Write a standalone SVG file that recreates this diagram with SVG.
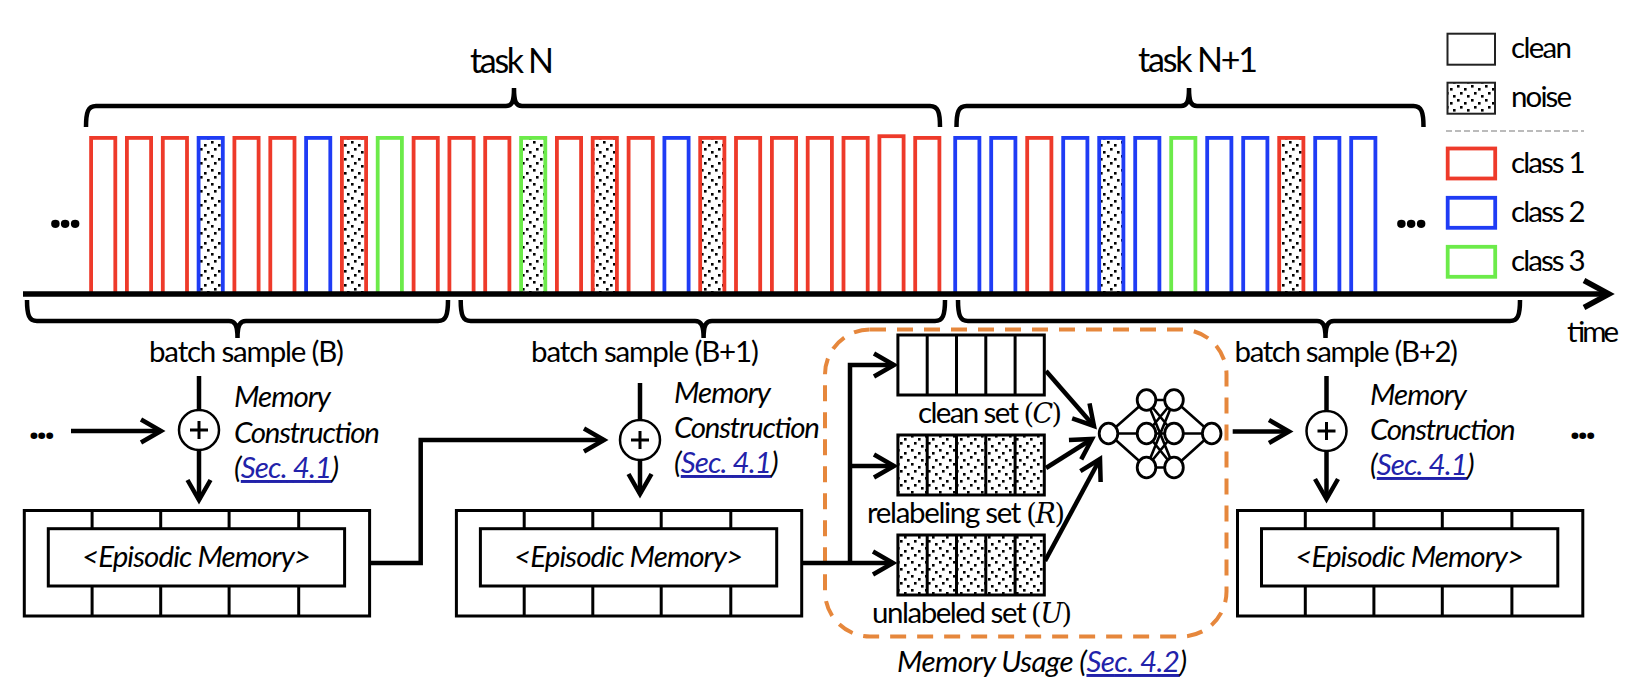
<svg xmlns="http://www.w3.org/2000/svg" width="1650" height="688" viewBox="0 0 1650 688">
<style>
.r{fill:#fff;stroke:#EE3A2A;stroke-width:3.8}
.b{fill:#fff;stroke:#1F3CF5;stroke-width:3.8}
.g{fill:#fff;stroke:#6CEB4A;stroke-width:3.8}
.n{fill:url(#dots)}
.t{font-family:Lato,"Liberation Sans",sans-serif;font-size:29.5px;fill:#000}
.big{font-size:34px}
.i{font-style:italic}
.link{fill:#2222AA;text-decoration:underline}
.m{font-family:"DejaVu Serif","Liberation Serif",serif;font-size:27px}
.dots{font-family:"Open Sans",sans-serif;font-weight:bold;fill:#000;text-anchor:middle}
.ln{stroke:#000;stroke-width:4.5;fill:none}
.arr{marker-end:url(#ah)}
.brace{stroke:#000;stroke-width:4.5;fill:none;stroke-linecap:butt}
.box{fill:#fff;stroke:#000;stroke-width:3}
.nbox{fill:url(#dots);stroke:#000;stroke-width:3}
.thin{stroke:#000;stroke-width:3}
.nn{fill:#fff;stroke:#000;stroke-width:2.8}
.nne{stroke:#000;stroke-width:2.6}
</style>
<defs>
<pattern id="dots" patternUnits="userSpaceOnUse" width="14" height="14">
<rect width="14" height="14" fill="#fff"/>
<rect x="1" y="1" width="2.6" height="2.6" fill="#000"/>
<rect x="8" y="4" width="2.6" height="2.6" fill="#000"/>
<rect x="4" y="8" width="2.6" height="2.6" fill="#000"/>
<rect x="11" y="11" width="2.6" height="2.6" fill="#000"/>
</pattern>
<marker id="ah" markerUnits="userSpaceOnUse" markerWidth="40" markerHeight="40" viewBox="-30 -20 40 40" refX="0" refY="0" orient="auto" overflow="visible">
<path d="M-20,-11.5 L0,0 L-20,11.5" fill="none" stroke="#000" stroke-width="4.5"/>
</marker>
</defs>
<rect width="1650" height="688" fill="#fff"/>

<g id="timeline">
<g id="bars-task-N">
<rect class="r" x="91.1" y="137.9" width="24.2" height="156.1"/>
<rect class="r" x="126.9" y="137.9" width="24.2" height="156.1"/>
<rect class="r" x="162.8" y="137.9" width="24.2" height="156.1"/>
<rect class="b n" x="198.6" y="137.9" width="24.2" height="156.1"/>
<rect class="r" x="234.4" y="137.9" width="24.2" height="156.1"/>
<rect class="r" x="270.3" y="137.9" width="24.2" height="156.1"/>
<rect class="b" x="306.1" y="137.9" width="24.2" height="156.1"/>
<rect class="r n" x="341.9" y="137.9" width="24.2" height="156.1"/>
<rect class="g" x="377.7" y="137.9" width="24.2" height="156.1"/>
<rect class="r" x="413.6" y="137.9" width="24.2" height="156.1"/>
<rect class="r" x="449.4" y="137.9" width="24.2" height="156.1"/>
<rect class="r" x="485.2" y="137.9" width="24.2" height="156.1"/>
<rect class="g n" x="521.1" y="137.9" width="24.2" height="156.1"/>
<rect class="r" x="556.9" y="137.9" width="24.2" height="156.1"/>
<rect class="r n" x="592.7" y="137.9" width="24.2" height="156.1"/>
<rect class="r" x="628.6" y="137.9" width="24.2" height="156.1"/>
<rect class="b" x="664.4" y="137.9" width="24.2" height="156.1"/>
<rect class="r n" x="700.2" y="137.9" width="24.2" height="156.1"/>
<rect class="r" x="736.0" y="137.9" width="24.2" height="156.1"/>
<rect class="r" x="771.9" y="137.9" width="24.2" height="156.1"/>
<rect class="r" x="807.7" y="137.9" width="24.2" height="156.1"/>
<rect class="r" x="843.5" y="137.9" width="24.2" height="156.1"/>
<rect class="r" x="879.4" y="136.2" width="24.2" height="157.8"/>
<rect class="r" x="915.2" y="137.9" width="24.2" height="156.1"/>
</g>
<g id="bars-task-N1">
<rect class="b" x="955.2" y="137.9" width="24.2" height="156.1"/>
<rect class="b" x="991.2" y="137.9" width="24.2" height="156.1"/>
<rect class="r" x="1027.2" y="137.9" width="24.2" height="156.1"/>
<rect class="b" x="1063.2" y="137.9" width="24.2" height="156.1"/>
<rect class="b n" x="1099.2" y="137.9" width="24.2" height="156.1"/>
<rect class="b" x="1135.2" y="137.9" width="24.2" height="156.1"/>
<rect class="g" x="1171.2" y="137.9" width="24.2" height="156.1"/>
<rect class="b" x="1207.2" y="137.9" width="24.2" height="156.1"/>
<rect class="b" x="1243.2" y="137.9" width="24.2" height="156.1"/>
<rect class="r n" x="1279.2" y="137.9" width="24.2" height="156.1"/>
<rect class="b" x="1315.2" y="137.9" width="24.2" height="156.1"/>
<rect class="b" x="1351.2" y="137.9" width="24.2" height="156.1"/>
</g>
<line x1="23" y1="294" x2="1604" y2="294" stroke="#000" stroke-width="5.5"/>
<path d="M1584,280.5 L1609,294 L1584,307.5" fill="none" stroke="#000" stroke-width="5.5"/>
<text class="dots" x="63" y="227.5" font-size="50" letter-spacing="-4.5">...</text>
<text class="dots" x="1409" y="227.5" font-size="50" letter-spacing="-4.5">...</text>
<text class="t" x="1564" y="342" textLength="52">time</text>
</g>

<g id="task-braces">
<path class="brace" d="M86,127 C86,112 88,106 96,106 L506,106 C512,106 514,102 514,88 C514,102 516,106 522,106 L930,106 C938,106 940,112 940,127"/>
<text class="t big" x="512" y="73" text-anchor="middle" textLength="84">task N</text>
<path class="brace" d="M956.5,127 C956.5,112 958.5,106 966.5,106 L1181,106 C1187,106 1189,102 1189,88 C1189,102 1191,106 1197,106 L1413.5,106 C1421.5,106 1423.5,112 1423.5,127"/>
<text class="t big" x="1198" y="72" text-anchor="middle" textLength="120">task N+1</text>
</g>

<g id="legend">
<rect x="1447.5" y="33.7" width="47.5" height="31" fill="#fff" stroke="#222" stroke-width="2"/>
<text class="t" x="1511" y="58" textLength="61">clean</text>
<rect x="1447.5" y="82.7" width="47.5" height="31" fill="url(#dots)" stroke="#222" stroke-width="2"/>
<text class="t" x="1511" y="107" textLength="61">noise</text>
<line x1="1446" y1="131" x2="1584" y2="131" stroke="#bbb" stroke-width="2" stroke-dasharray="6 3"/>
<rect class="r" x="1447.7" y="148.5" width="47.5" height="30"/>
<text class="t" x="1511" y="173" textLength="74.5">class 1</text>
<rect class="b" x="1447.7" y="197.8" width="47.5" height="30"/>
<text class="t" x="1511" y="222" textLength="74.5">class 2</text>
<rect class="g" x="1447.7" y="246.8" width="47.5" height="30"/>
<text class="t" x="1511" y="270.5" textLength="74.5">class 3</text>
</g>

<g id="batch-braces">
<path class="brace" d="M27,300 C27,315 29,321 37,321 L229,321 C235,321 237.5,325 237.5,338 C237.5,325 240,321 246,321 L438,321 C446,321 448,315 448,300"/>
<path class="brace" d="M460.7,300 C460.7,315 462.7,321 470.7,321 L695,321 C701,321 703.6,325 703.6,338 C703.6,325 706,321 712,321 L935,321 C943,321 945,315 945,300"/>
<path class="brace" d="M958,300 C958,315 960,321 968,321 L1317,321 C1323,321 1325.5,325 1325.5,338 C1325.5,325 1328,321 1334,321 L1510,321 C1518,321 1520,315 1520,300"/>
</g>

<g id="batch-B">
<text class="t" x="149" y="362" textLength="195">batch sample (B)</text>
</g>
<g id="batch-B1">
<text class="t" x="531" y="362" textLength="228">batch sample (B+1)</text>
</g>
<g id="batch-B2">
<text class="t" x="1234.5" y="362" textLength="223.5">batch sample (B+2)</text>
</g>

<g id="construct-B">
<circle cx="199" cy="430" r="20" fill="#fff" stroke="#000" stroke-width="2.5"/>
<path d="M190,430 H208 M199,421 V439" class="thin"/>
<text class="t i" x="234" y="407" textLength="97">Memory</text>
<text class="t i" x="234" y="443" textLength="146">Construction</text>
<text class="t i" x="234" y="478" textLength="105">(<tspan class="link">Sec. 4.1</tspan>)</text>
</g>
<g id="construct-B1">
<circle cx="640" cy="440" r="20" fill="#fff" stroke="#000" stroke-width="2.5"/>
<path d="M631,440 H649 M640,431 V449" class="thin"/>
<text class="t i" x="674" y="403" textLength="97">Memory</text>
<text class="t i" x="674" y="438" textLength="146">Construction</text>
<text class="t i" x="674" y="473" textLength="104.6">(<tspan class="link">Sec. 4.1</tspan>)</text>
</g>
<g id="construct-B2">
<circle cx="1326.5" cy="431" r="20" fill="#fff" stroke="#000" stroke-width="2.5"/>
<path d="M1317.5,431 H1335.5 M1326.5,422 V440" class="thin"/>
<text class="t i" x="1370" y="405" textLength="97">Memory</text>
<text class="t i" x="1370" y="440" textLength="145.6">Construction</text>
<text class="t i" x="1370" y="475" textLength="104.5">(<tspan class="link">Sec. 4.1</tspan>)</text>
</g>

<g id="memory-B" transform="translate(24.3,510.5)">
<rect class="box" x="0" y="0" width="345.3" height="105.5"/>
<rect class="box" x="24" y="18.2" width="296.3" height="57.3" stroke-width="2.5"/>
<path class="thin" d="M67.8,0 V18.2 M136.4,0 V18.2 M204.8,0 V18.2 M274.4,0 V18.2 M67.8,75.5 V105.5 M136.4,75.5 V105.5 M204.8,75.5 V105.5 M274.4,75.5 V105.5"/>
<text class="t i" x="172.2" y="56" text-anchor="middle" textLength="229">&lt;Episodic Memory&gt;</text>
</g>
<g id="memory-B1" transform="translate(456.4,510.5)">
<rect class="box" x="0" y="0" width="345.3" height="105.5"/>
<rect class="box" x="24" y="18.2" width="296.3" height="57.3" stroke-width="2.5"/>
<path class="thin" d="M67.8,0 V18.2 M136.4,0 V18.2 M204.8,0 V18.2 M274.4,0 V18.2 M67.8,75.5 V105.5 M136.4,75.5 V105.5 M204.8,75.5 V105.5 M274.4,75.5 V105.5"/>
<text class="t i" x="172.2" y="56" text-anchor="middle" textLength="229">&lt;Episodic Memory&gt;</text>
</g>
<g id="memory-B2" transform="translate(1237.5,510.5)">
<rect class="box" x="0" y="0" width="345.3" height="105.5"/>
<rect class="box" x="24" y="18.2" width="296.3" height="57.3" stroke-width="2.5"/>
<path class="thin" d="M67.8,0 V18.2 M136.4,0 V18.2 M204.8,0 V18.2 M274.4,0 V18.2 M67.8,75.5 V105.5 M136.4,75.5 V105.5 M204.8,75.5 V105.5 M274.4,75.5 V105.5"/>
<text class="t i" x="172.2" y="56" text-anchor="middle" textLength="229">&lt;Episodic Memory&gt;</text>
</g>

<g id="memory-usage">
<rect x="825" y="329.5" width="401.5" height="307" rx="45" ry="45" fill="none" stroke="#E6873C" stroke-width="4" stroke-dasharray="16 11"/>
<text class="t i" x="897" y="672" textLength="290">Memory Usage (<tspan class="link">Sec. 4.2</tspan>)</text>
</g>

<g id="clean-set">
<rect class="box" x="897.9" y="335" width="146.4" height="60"/>
<path class="thin" d="M927.2,335 V395 M956.5,335 V395 M985.8,335 V395 M1015.1,335 V395"/>
<text class="t" x="918" y="423" textLength="144">clean set <tspan class="m">(<tspan font-style="italic">C</tspan>)</tspan></text>
</g>
<g id="relabeling-set">
<rect class="nbox" x="897.9" y="435" width="146.4" height="60"/>
<path class="thin" d="M927.2,435 V495 M956.5,435 V495 M985.8,435 V495 M1015.1,435 V495"/>
<text class="t" x="867" y="523" textLength="198">relabeling set <tspan class="m">(<tspan font-style="italic">R</tspan>)</tspan></text>
</g>
<g id="unlabeled-set">
<rect class="nbox" x="897.9" y="535" width="146.4" height="60"/>
<path class="thin" d="M927.2,535 V595 M956.5,535 V595 M985.8,535 V595 M1015.1,535 V595"/>
<text class="t" x="872" y="623" textLength="200">unlabeled set <tspan class="m">(<tspan font-style="italic">U</tspan>)</tspan></text>
</g>

<g id="network">
<path class="nne" d="M1108.5,433.5 L1146.5,400 M1108.5,433.5 L1146.5,433.5 M1108.5,433.5 L1146.5,467.5
M1146.5,400 L1174,400 M1146.5,400 L1174,433.5 M1146.5,400 L1174,467.5
M1146.5,433.5 L1174,400 M1146.5,433.5 L1174,433.5 M1146.5,433.5 L1174,467.5
M1146.5,467.5 L1174,400 M1146.5,467.5 L1174,433.5 M1146.5,467.5 L1174,467.5
M1174,400 L1211.7,433.5 M1174,433.5 L1211.7,433.5 M1174,467.5 L1211.7,433.5"/>
<ellipse class="nn" cx="1108.5" cy="433.5" rx="9.3" ry="10.3"/>
<ellipse class="nn" cx="1146.5" cy="400" rx="9.3" ry="10.3"/>
<ellipse class="nn" cx="1146.5" cy="433.5" rx="9.3" ry="10.3"/>
<ellipse class="nn" cx="1146.5" cy="467.5" rx="9.3" ry="10.3"/>
<ellipse class="nn" cx="1174" cy="400" rx="9.3" ry="10.3"/>
<ellipse class="nn" cx="1174" cy="433.5" rx="9.3" ry="10.3"/>
<ellipse class="nn" cx="1174" cy="467.5" rx="9.3" ry="10.3"/>
<ellipse class="nn" cx="1211.7" cy="433.5" rx="9.3" ry="10.3"/>
</g>

<g id="ellipsis-bottom">
<text class="dots" x="40" y="439" font-size="40" letter-spacing="-3.5">...</text>
<text class="dots" x="1581" y="439" font-size="40" letter-spacing="-3.5">...</text>
</g>

<g id="connectors">
<path class="ln arr" d="M71,431 H161"/>
<path class="ln" d="M199,376 V410"/>
<path class="ln arr" d="M199,450 V500"/>
<path class="ln" d="M640,383 V420"/>
<path class="ln arr" d="M640,460 V494"/>
<path class="ln" d="M1326.5,376 V411"/>
<path class="ln arr" d="M1326.5,451 V499"/>
<path class="ln arr" d="M369.6,563 H420.7 V440 H604"/>
<path class="ln arr" d="M801.4,563 H893"/>
<path class="ln arr" d="M850,563 V365 H894"/>
<path class="ln arr" d="M850,466 H894"/>
<path class="ln arr" d="M1046,371 L1094,426"/>
<path class="ln arr" d="M1046,468 L1092,439"/>
<path class="ln arr" d="M1045,561 L1100,459"/>
<path class="ln arr" d="M1232.7,431.5 H1289"/>
</g>
</svg>
